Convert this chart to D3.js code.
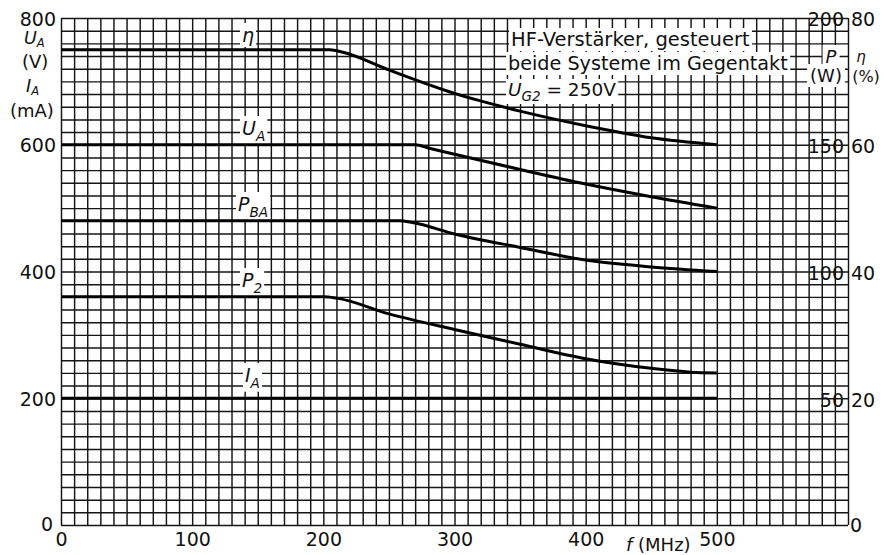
<!DOCTYPE html>
<html><head><meta charset="utf-8">
<script src="https://cdn.jsdelivr.net/npm/d3@7"></script>
<style>
html,body{margin:0;padding:0;background:#fff;}
svg{display:block;}
text{font-family:"DejaVu Sans",sans-serif;fill:#111;}
</style></head>
<body>
<script>
// ---- data ----
const xTicks = [0,100,200,300,400,500];
const leftTicks = [0,200,400,600,800];
const pTicks = [50,100,150,200];
const etaTicks = [20,40,60,80];

const etaF = [0,205,215,250,300,350,400,450,500];
const etaV = [75,75,74.6,71.8,68.1,65.3,63.0,61.1,60.0];      // %
const uaF  = [0,270,280,300,350,400,450,500];
const uaV  = [600,600,595,585,561,538,518,500];              // V
const pbaF = [0,258,268,300,350,400,450,500];
const pbaV = [120,120,119.3,114.8,109.5,104.5,101.8,100];    // W
const p2F  = [0,200,210,250,300,350,400,450,480,500];
const p2V  = [90,90,89.5,83.3,77.1,71.3,65.6,61.8,60.3,60];  // W
const iaF  = [0,500];
const iaV  = [200,200];                                      // mA

const W = 884, H = 555;
const svg = d3.select("body").append("svg").attr("width",W).attr("height",H);
svg.append("rect").attr("width",W).attr("height",H).attr("fill","#fff");

const x = d3.scaleLinear().domain([0,600]).range([61,848]);
const y = d3.scaleLinear().domain([0,800]).range([525,18]);
const yP = d3.scaleLinear().domain([0,200]).range([525,18]);
const yEta = d3.scaleLinear().domain([0,80]).range([525,18]);

// ---- grid ----
const gridCol = "#151515";
const gx = svg.append("g").attr("transform",`translate(0,${y(0)})`)
  .call(d3.axisBottom(x).tickValues(d3.range(0,601,10)).tickSize(-(y(0)-y(800))).tickFormat(""));
gx.select(".domain").remove();
gx.selectAll("line").attr("stroke",gridCol).attr("stroke-width",1.45);
const gy = svg.append("g").attr("transform",`translate(${x(0)},0)`)
  .call(d3.axisLeft(y).tickValues(d3.range(0,801,20)).tickSize(-(x(600)-x(0))).tickFormat(""));
gy.select(".domain").remove();
gy.selectAll("line").attr("stroke",gridCol).attr("stroke-width",1.45);

const labelLayer = svg.append("g");

function bg(sel, pad){
  sel.each(function(){
    const b = this.getBBox();
    const p = pad||[2,1];
    labelLayer.insert("rect", ":first-child")
      .attr("x",b.x-p[0]).attr("y",b.y-p[1]).attr("width",b.width+2*p[0]).attr("height",b.height+2*p[1])
      .attr("fill","#fff");
  });
}

// ---- curves ----
const curves = svg.append("g");
function drawCurve(F,V,ys){
  const pts = F.map((f,i)=>[f,V[i]]);
  curves.append("path").datum(pts)
    .attr("fill","none").attr("stroke","#000").attr("stroke-width",3)
    .attr("stroke-linejoin","round").attr("stroke-linecap","butt")
    .attr("d",d3.line().x(d=>x(d[0])).y(d=>ys(d[1])).curve(d3.curveMonotoneX));
}
drawCurve(etaF,etaV,yEta);
drawCurve(uaF,uaV,y);
drawCurve(pbaF,pbaV,yP);
drawCurve(p2F,p2V,yP);
drawCurve(iaF,iaV,y);

// ---- axes labels ----
const fs = 19;
const axL = svg.append("g").attr("transform",`translate(56,0)`)
  .call(d3.axisLeft(y).tickValues(leftTicks.filter(d=>d>0)).tickSize(0).tickPadding(0));
axL.select(".domain").remove();
axL.selectAll("text").attr("font-size",fs).attr("font-family","DejaVu Sans").attr("fill","#111").attr("dy","0.38em");
svg.append("text").attr("x",53).attr("y",y(0)).attr("dy","0.3em").attr("text-anchor","end").attr("font-size",fs).text("0");

const axB = svg.append("g").attr("transform",`translate(0,${y(0)})`)
  .call(d3.axisBottom(x).tickValues(xTicks).tickSize(0).tickPadding(0));
axB.select(".domain").remove();
axB.selectAll("text").attr("font-size",fs).attr("font-family","DejaVu Sans").attr("fill","#111").attr("dy","1.1em");

// right P axis (inside plot)
const axP = labelLayer.append("g").attr("transform",`translate(844,0)`)
  .call(d3.axisLeft(yP).tickValues(pTicks).tickSize(0).tickPadding(0));
axP.select(".domain").remove();
axP.selectAll("text").attr("font-size",fs).attr("font-family","DejaVu Sans").attr("fill","#111").attr("dy","0.42em");
bg(axP.selectAll("text"),[3,1]);
svg.append("text").attr("x",850).attr("y",yP(0)).attr("dy","0.35em").attr("font-size",fs).text("0");

// eta axis (outside)
const axE = svg.append("g").attr("transform",`translate(851,0)`)
  .call(d3.axisRight(yEta).tickValues(etaTicks).tickSize(0).tickPadding(0));
axE.select(".domain").remove();
axE.selectAll("text").attr("font-size",fs).attr("font-family","DejaVu Sans").attr("fill","#111").attr("dy","0.42em");

// ---- unit labels ----
function subText(parent, xx, yy, main, sub, size, italic, anchor, subScale, subDy){
  const t = parent.append("text").attr("x",xx).attr("y",yy).attr("font-size",size);
  if(anchor) t.attr("text-anchor",anchor);
  t.append("tspan").attr("font-style",italic?"italic":"normal").text(main);
  if(sub) t.append("tspan").attr("font-size",size*(subScale||0.72)).attr("dy",size*(subDy||0.3)).attr("font-style","italic").text(sub);
  return t;
}
// left
subText(svg,24,44,"U","A",17.5,true,null,0.66,0.18);
svg.append("text").attr("x",22).attr("y",68).attr("font-size",18).text("(V)");
subText(svg,26,92,"I","A",17.5,true,null,0.66,0.18);
svg.append("text").attr("x",10).attr("y",117).attr("font-size",18).text("(mA)");

// right top
const pl = labelLayer.append("g");
pl.append("text").attr("x",831).attr("y",63).attr("text-anchor","middle").attr("font-size",18).attr("font-style","italic").text("P");
pl.append("text").attr("x",826).attr("y",82).attr("text-anchor","middle").attr("font-size",18).text("(W)");
bg(pl.selectAll("text"),[3,1]);
svg.append("text").attr("x",861).attr("y",62).attr("text-anchor","middle").attr("font-size",15).attr("font-style","italic").text("η");
svg.append("text").attr("x",866).attr("y",82).attr("text-anchor","middle").attr("font-size",16).text("(%)");

// bottom axis title
const ft = svg.append("text").attr("x",626).attr("y",551).attr("font-size",18);
ft.append("tspan").attr("font-style","italic").text("f");
ft.append("tspan").text(" (MHz)");

// ---- curve labels ----
const cl = labelLayer.append("g");
cl.append("text").attr("x",242).attr("y",42).attr("font-size",19).attr("font-style","italic").text("η");
subText(cl,242,135,"U","A",19,true);
subText(cl,238,211,"P","BA",19,true);
subText(cl,242,287,"P","2",19,true);
subText(cl,245,382,"I","A",19,true);
bg(cl.selectAll("text"),[2,1]);

// ---- info box ----
const info = labelLayer.append("g");
info.append("text").attr("x",511).attr("y",46).attr("font-size",19.5).text("HF-Verstärker, gesteuert");
info.append("text").attr("x",508).attr("y",70).attr("font-size",19.2).text("beide Systeme im Gegentakt");
const ug = info.append("text").attr("x",508).attr("y",96).attr("font-size",18.5);
ug.append("tspan").attr("font-style","italic").text("U");
ug.append("tspan").attr("font-size",13.5).attr("dy",5).attr("font-style","italic").text("G2");
ug.append("tspan").attr("dy",-5).text(" = 250V");
bg(info.selectAll("text"),[2,0]);
</script>
</body></html>
